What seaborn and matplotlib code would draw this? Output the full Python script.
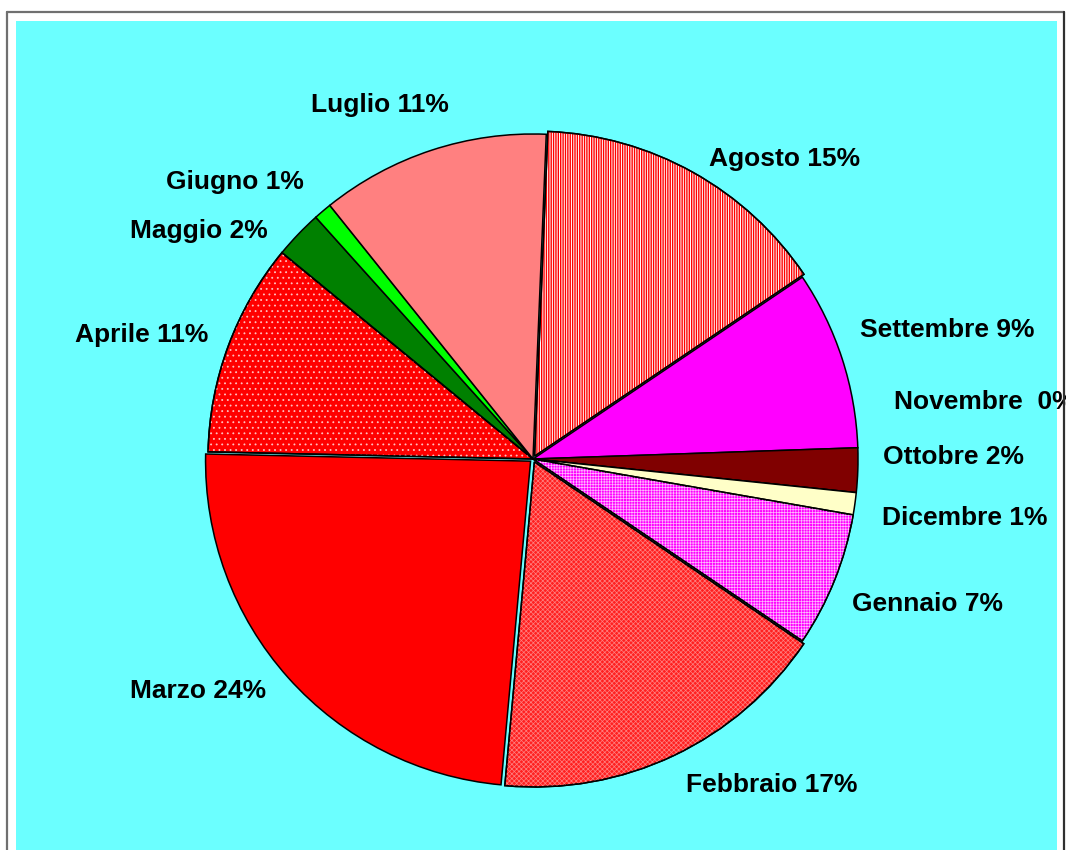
import matplotlib
matplotlib.use("Agg")
import matplotlib.pyplot as plt
from matplotlib.patches import Wedge
from matplotlib.lines import Line2D
import numpy as np
import seaborn as sns

# Monthly shares (percent), clockwise from January
mesi = ["Gennaio", "Febbraio", "Marzo", "Aprile", "Maggio", "Giugno",
        "Luglio", "Agosto", "Settembre", "Ottobre", "Novembre", "Dicembre"]
quote = [6.7, 17.0, 23.9, 10.6, 2.4, 0.9, 11.4, 14.9, 8.9, 2.2, 0.0, 1.1]
separatori = [" ", " ", " ", " ", " ", " ", " ", " ", " ", " ", "  ", " "]
etichette = [f"{m}{s}{v:.0f}%" for m, s, v in zip(mesi, separatori, quote)]

# Fill styles
colori = ["#FF00FF", "#FF2020", "#FF0000", "#FF0000", "#008000", "#00FF00",
          "#FF8080", "#FFFFFF", "#FF00FF", "#800000", "#FFFFFF", "#FFFFC8"]
motivi = ["++++++", "xxxxxxx", "", "...", "", "", "", "|||||||", "", "", "", ""]
colori_motivo = ["#FFB8FF", "#FF8080", None, "#FFC0C0", None, None, None,
                 "#FF0000", None, None, None, None]
spessori_motivo = [0.5, 0.5, None, 0.6, None, None, None, 1.0,
                   None, None, None, None]
stacco = [0, 0.01, 0.01, 0, 0, 0, 0, 0.01, 0, 0, 0, 0]

# Label nudges in pixels (right, down)
spost = [(-13, 11), (0, 3), (0, -6), (11, 0), (-7, 19), (2, -4),
         (27, -14), (2, 12), (-13, -19), (-7, -14), (5, -94), (-5, 10)]

sns.set_theme(style="white")
plt.rcParams["font.family"] = ["Liberation Sans", "DejaVu Sans"]
plt.rcParams["hatch.linewidth"] = 0.6

W, H = 1066, 850
fig = plt.figure(figsize=(W / 100, H / 100), dpi=100)
fig.patch.set_facecolor("white")

# Outer frame
fig.add_artist(Line2D([7 / W, 1064 / W], [1 - 12 / H, 1 - 12 / H],
                      transform=fig.transFigure, color="#707070", lw=1.6))
fig.add_artist(Line2D([7 / W, 7 / W], [0, 1 - 12 / H],
                      transform=fig.transFigure, color="#707070", lw=1.6))
fig.add_artist(Line2D([1064 / W, 1064 / W], [0, 1 - 12 / H],
                      transform=fig.transFigure, color="#303030", lw=1.6))

# Plot area
x0, x1, ytop = 16, 1057, 21
ax = fig.add_axes([x0 / W, 0, (x1 - x0) / W, (H - ytop) / H])
cx, cy, r = 533, 459, 325

wedges, _ = ax.pie(quote, colors=colori, explode=stacco, startangle=-9.9,
                   counterclock=False, radius=1.0,
                   wedgeprops=dict(edgecolor="black", linewidth=1.1))

# Hatched overlays drawn in their own colours
for w, m, c, lw in zip(wedges, motivi, colori_motivo, spessori_motivo):
    if m:
        with plt.rc_context({"hatch.linewidth": lw}):
            ov = Wedge(w.center, w.r, w.theta1, w.theta2, fill=False, hatch=m,
                       edgecolor=c, linewidth=0, zorder=w.get_zorder() + 0.1)
        try:
            ov.set_hatch_linewidth(lw)
        except AttributeError:
            pass
        ax.add_patch(ov)
        outline = Wedge(w.center, w.r, w.theta1, w.theta2, fill=False,
                        edgecolor="black", linewidth=1.1,
                        zorder=w.get_zorder() + 0.2)
        ax.add_patch(outline)

ax.set_frame_on(True)
for s in ax.spines.values():
    s.set_visible(False)
ax.set_facecolor("#6BFFFF")
ax.set_xlim(-(cx - x0) / r, (x1 - cx) / r)
ax.set_ylim(-(H - cy) / r, (cy - ytop) / r)
ax.set_aspect("auto")
ax.set_xticks([])
ax.set_yticks([])

# Labels outside each slice
for w, lab, (dx, dy) in zip(wedges, etichette, spost):
    ang = np.deg2rad((w.theta1 + w.theta2) / 2)
    px, py = 1.1 * np.cos(ang), 1.1 * np.sin(ang)
    ha = "left" if np.cos(ang) >= 0 else "right"
    ax.annotate(lab, xy=(px, py), xytext=(dx * 0.72, -dy * 0.72),
                textcoords="offset points", ha=ha, va="center",
                fontsize=19, fontweight="bold", color="black",
                annotation_clip=False)

fig.savefig("out.png", dpi=100, facecolor="white")
